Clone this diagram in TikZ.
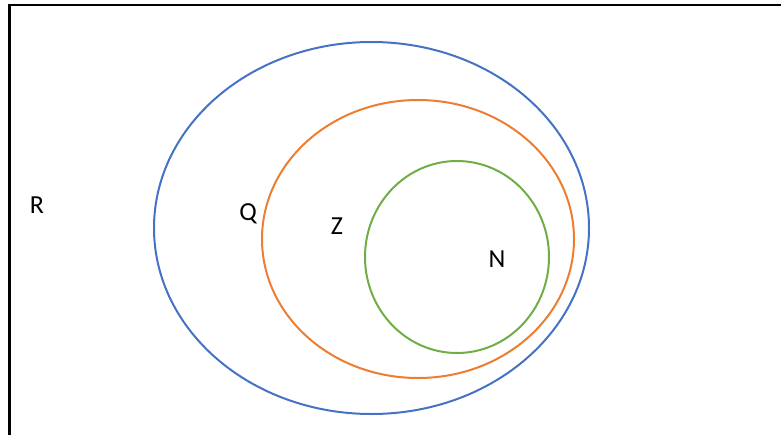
\documentclass[tikz,border=0pt]{standalone}
\usepackage{fontspec}
\setmainfont{Carlito}
\begin{document}
\begin{tikzpicture}[x=1pt,y=-1pt,
  lbl/.style={font=\fontsize{26}{30}\selectfont, inner sep=0pt},
  setline/.style={line width=2pt}]
\useasboundingbox (0,0) rectangle (781,434);
\definecolor{setblue}{RGB}{68,114,196}
\definecolor{setorange}{RGB}{237,125,49}
\definecolor{setgreen}{RGB}{112,173,71}
\draw[line width=2.5pt] (9.5,440) -- (9.5,5) -- (790,5);
\draw[setline, setblue] (371.5,228) ellipse [x radius=217.5, y radius=186];
\draw[setline, setorange] (418,239) ellipse [x radius=156, y radius=139];
\draw[setline, setgreen] (457,257) ellipse [x radius=92, y radius=96];
\node[lbl] (R) at (37,205) {R};
\node[lbl] (Q) at (248,214) {Q};
\node[lbl] (Z) at (337,226) {Z};
\node[lbl] (N) at (497,259) {N};
\end{tikzpicture}
\end{document}
